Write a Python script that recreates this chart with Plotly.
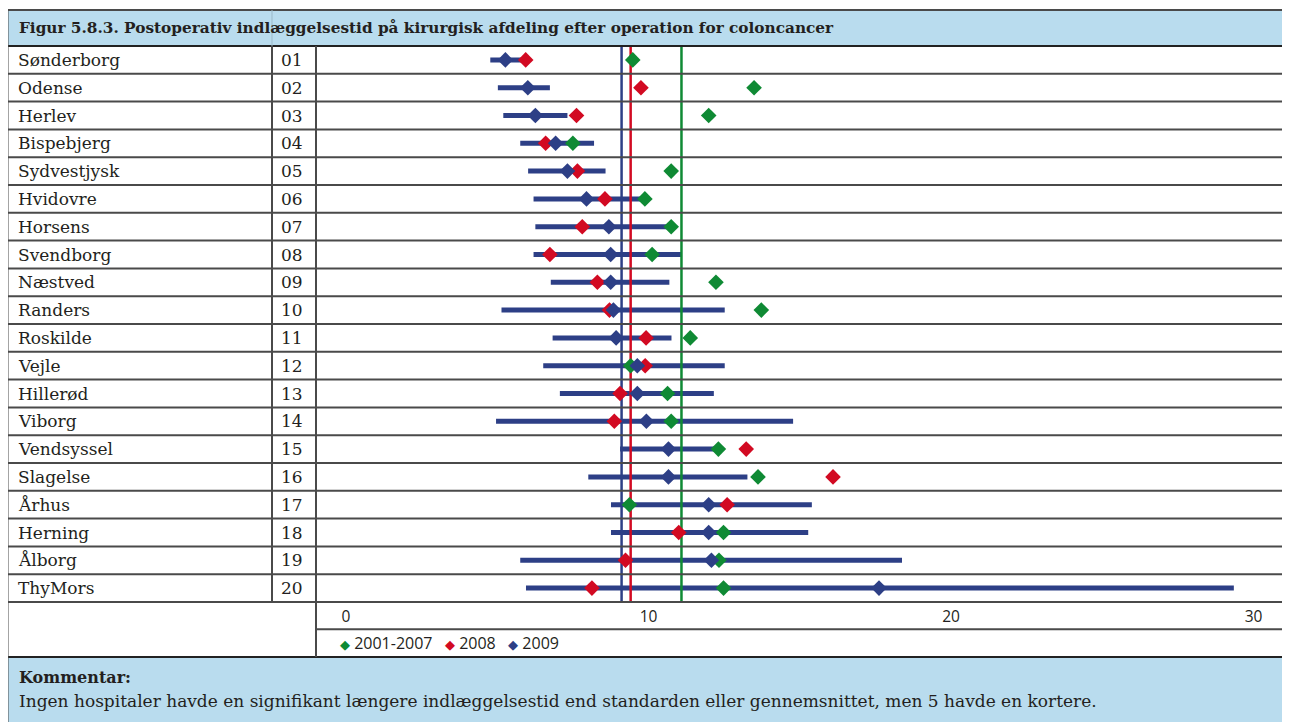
import plotly.graph_objects as go

# ---------------- data ----------------
hospitals = ["Sønderborg", "Odense", "Herlev", "Bispebjerg", "Sydvestjysk", "Hvidovre",
             "Horsens", "Svendborg", "Næstved", "Randers", "Roskilde", "Vejle",
             "Hillerød", "Viborg", "Vendsyssel", "Slagelse", "Århus", "Herning",
             "Ålborg", "ThyMors"]
codes = ["01", "02", "03", "04", "05", "06", "07", "08", "09", "10",
         "11", "12", "13", "14", "15", "16", "17", "18", "19", "20"]
v_2001_2007 = [9.48, 13.49, 11.99, 7.50, 10.75, 9.88, 10.75, 10.12, 12.23, 13.73,
               11.38, 9.41, 10.63, 10.75, 12.31, 13.62, 9.37, 12.48, 12.33, 12.48]
v_2008 = [5.94, 9.75, 7.62, 6.60, 7.65, 8.56, 7.81, 6.74, 8.31, 8.71,
          9.92, 9.89, 9.06, 8.87, 13.23, 16.10, 12.60, 11.00, 9.24, 8.13]
v_2009 = [5.27, 6.01, 6.26, 6.93, 7.32, 7.95, 8.69, 8.75, 8.75, 8.84,
          8.93, 9.63, 9.63, 9.93, 10.66, 10.66, 11.99, 11.99, 12.08, 17.62]
ci_low_2009 = [4.77, 5.02, 5.20, 5.76, 6.02, 6.20, 6.26, 6.20, 6.77, 5.14,
               6.83, 6.52, 7.07, 4.96, 9.06, 8.01, 8.76, 8.76, 5.76, 5.95]
ci_high_2009 = [5.96, 6.74, 7.32, 8.20, 8.58, 9.75, 10.69, 11.09, 10.69, 12.52,
                10.76, 12.52, 12.16, 14.78, 12.23, 13.27, 15.40, 15.28, 18.38, 29.35]
ref_2009 = 9.11
ref_2008 = 9.41
ref_2001_2007 = 11.09
tick_vals = [0, 10, 20, 30]
tick_text = ["0", "10", "20", "30"]
series_names = ["2001-2007", "2008", "2009"]

title_text = "Figur 5.8.3. Postoperativ indlæggelsestid på kirurgisk afdeling efter operation for coloncancer"
comment_head = "Kommentar:"
comment_text = ("Ingen hospitaler havde en signifikant længere indlæggelsestid end standarden "
                "eller gennemsnittet, men 5 havde en kortere.")

# ---------------- style ----------------
OFF = 8                      # page offset of the figure (body margin)
W, H = 1282, 714             # figure size so it ends at the window edge
GREEN = "#0f8a34"
RED = "#d20a22"
BLUE = "#2d3f86"
HEAD_BG = "#b9dcee"
LINE = "#4a4a4a"
TXT = "#231f20"
SERIF = "DejaVu Serif"
SANS = "Open Sans"

# geometry in window pixels
X_LEFT, X_C1, X_C2, X_RIGHT = 7.5, 272, 316, 1295
Y_TOP, Y_HEAD = 10, 46
ROW_H = 27.8
N = len(hospitals)
Y_ROWS_END = Y_HEAD + ROW_H * N
Y_AXIS_END = Y_ROWS_END + 27.3
Y_LEG_END = Y_AXIS_END + 27.8
X_ZERO, PX_PER_UNIT = 346, 30.25


def px(x):
    return (x - OFF) / W


def py(y):
    return 1 - (y - OFF) / H


rows = list(range(N))

fig = go.Figure()

# CI bars for 2009
ci_x, ci_y = [], []
for i in rows:
    ci_x += [ci_low_2009[i], ci_high_2009[i], None]
    ci_y += [i, i, None]
fig.add_trace(go.Scatter(x=ci_x, y=ci_y, mode="lines",
                         line=dict(color=BLUE, width=5), showlegend=False,
                         hoverinfo="skip"))

# reference lines
for val, col in [(ref_2009, BLUE), (ref_2008, RED), (ref_2001_2007, GREEN)]:
    fig.add_trace(go.Scatter(x=[val, val], y=[-0.5, N - 0.5], mode="lines",
                             line=dict(color=col, width=2.5), showlegend=False,
                             hoverinfo="skip"))

# diamonds
for vals, col, name in [(v_2001_2007, GREEN, series_names[0]),
                        (v_2008, RED, series_names[1]),
                        (v_2009, BLUE, series_names[2])]:
    fig.add_trace(go.Scatter(x=vals, y=rows, mode="markers", name=name,
                             marker=dict(symbol="diamond", size=12, color=col),
                             showlegend=False))

shapes = []
shapes.append(dict(type="rect", xref="paper", yref="paper",
                   x0=px(X_LEFT), x1=px(X_RIGHT), y0=py(Y_HEAD), y1=py(Y_TOP),
                   fillcolor=HEAD_BG, line=dict(width=0), layer="below"))
shapes.append(dict(type="rect", xref="paper", yref="paper",
                   x0=px(X_LEFT), x1=px(X_RIGHT), y0=py(740), y1=py(Y_LEG_END),
                   fillcolor=HEAD_BG, line=dict(width=0), layer="below"))


def hline(y, x0=X_LEFT, x1=X_RIGHT, color=LINE, w=2):
    shapes.append(dict(type="line", xref="paper", yref="paper",
                       x0=px(x0), x1=px(x1), y0=py(y), y1=py(y),
                       line=dict(color=color, width=w), layer="above"))


def vline(x, y0, y1, color=LINE, w=2):
    shapes.append(dict(type="line", xref="paper", yref="paper",
                       x0=px(x), x1=px(x), y0=py(y0), y1=py(y1),
                       line=dict(color=color, width=w), layer="above"))


hline(Y_TOP)
for k in range(N + 1):
    hline(Y_HEAD + ROW_H * k, color=("#222222" if k == 0 else LINE))
hline(Y_AXIS_END, x0=X_C2)
hline(Y_LEG_END, color="#222222")
vline(X_LEFT, Y_TOP, 740)
vline(X_C1, Y_HEAD, Y_ROWS_END)
vline(X_C1, Y_TOP, Y_HEAD, color="#9bb9c9", w=1)
vline(X_C2, Y_HEAD, Y_LEG_END)

annotations = []
annotations.append(dict(xref="paper", yref="paper", x=px(17), y=py((Y_TOP + Y_HEAD) / 2),
                        xanchor="left", yanchor="middle", showarrow=False,
                        text="<b>" + title_text + "</b>",
                        font=dict(family=SERIF, size=15.3, color=TXT)))
for i in rows:
    yc = Y_HEAD + ROW_H * (i + 0.5)
    annotations.append(dict(xref="paper", yref="paper", x=px(16), y=py(yc),
                            xanchor="left", yanchor="middle", showarrow=False,
                            text=hospitals[i], font=dict(family=SERIF, size=17, color=TXT)))
    annotations.append(dict(xref="paper", yref="paper", x=px(279), y=py(yc),
                            xanchor="left", yanchor="middle", showarrow=False,
                            text=codes[i], font=dict(family=SERIF, size=17, color=TXT)))

dia = "<span style='color:{c};font-size:13px'>◆</span>"
gap = "&nbsp;&nbsp;&nbsp;"
legend_html = (dia.format(c=GREEN) + "&nbsp;" + series_names[0] + gap
               + dia.format(c=RED) + "&nbsp;" + series_names[1] + gap
               + dia.format(c=BLUE) + "&nbsp;" + series_names[2])
annotations.append(dict(xref="paper", yref="paper", x=px(338), y=py((Y_AXIS_END + Y_LEG_END) / 2),
                        xanchor="left", yanchor="middle", showarrow=False,
                        text=legend_html, font=dict(family=SANS, size=16, color=TXT)))
annotations.append(dict(xref="paper", yref="paper", x=px(17), y=py(677),
                        xanchor="left", yanchor="middle", showarrow=False,
                        text="<b>" + comment_head + "</b>",
                        font=dict(family=SERIF, size=16, color=TXT)))
annotations.append(dict(xref="paper", yref="paper", x=px(17), y=py(701),
                        xanchor="left", yanchor="middle", showarrow=False,
                        text=comment_text, font=dict(family=SERIF, size=17, color=TXT)))

dom_l, dom_r = px(X_C2), 1.0
x0_val = (X_C2 - X_ZERO) / PX_PER_UNIT
x1_val = (OFF + W - X_ZERO) / PX_PER_UNIT

fig.update_layout(
    width=W, height=H,
    margin=dict(l=0, r=0, t=0, b=0),
    paper_bgcolor="white", plot_bgcolor="rgba(0,0,0,0)",
    showlegend=False,
    shapes=shapes, annotations=annotations,
    xaxis=dict(domain=[dom_l, dom_r], range=[x0_val, x1_val],
               tickvals=tick_vals, ticktext=tick_text, ticks="",
               showgrid=False, zeroline=False, showline=False,
               tickfont=dict(family=SANS, size=15.5, color=TXT),
               ticklabelstandoff=3, fixedrange=True),
    yaxis=dict(domain=[py(Y_ROWS_END), py(Y_HEAD)], range=[N - 0.5, -0.5],
               showticklabels=False, showgrid=False, zeroline=False,
               showline=False, fixedrange=True),
)

fig.write_html("out.html")
